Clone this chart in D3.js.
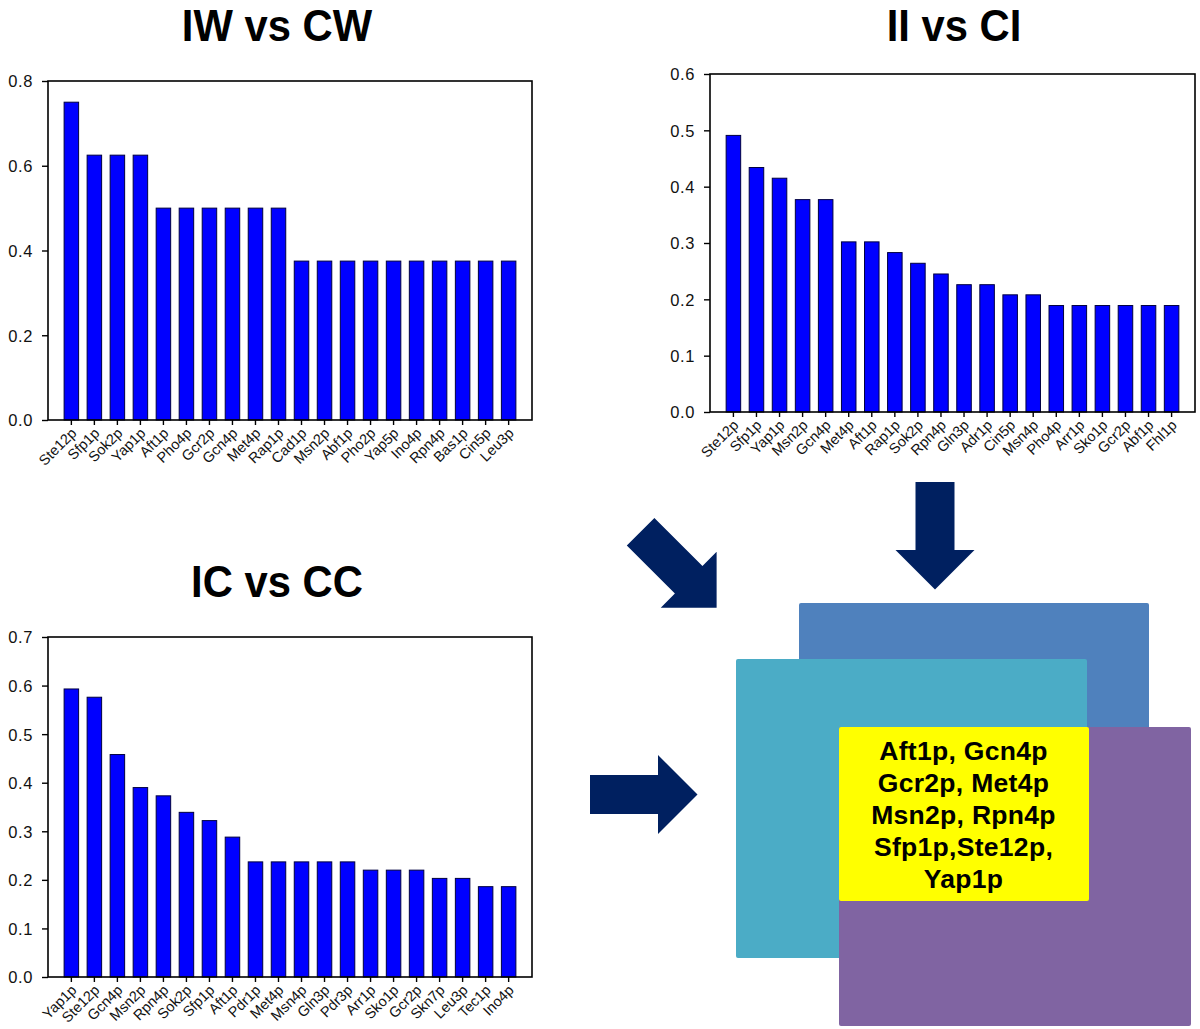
<!DOCTYPE html>
<html>
<head>
<meta charset="utf-8">
<script src="https://cdn.jsdelivr.net/npm/d3@7"></script>
<style>
  html, body { margin: 0; padding: 0; background: #fff; }
  svg { display: block; }
  text { font-family: "Liberation Sans", Arial, Helvetica, sans-serif; }
</style>
</head>
<body>
<svg id="fig" width="1200" height="1029"></svg>
<script>
// ---------------- DATA ----------------
const iwCategories = ["Ste12p","Sfp1p","Sok2p","Yap1p","Aft1p","Pho4p","Gcr2p","Gcn4p","Met4p","Rap1p",
  "Cad1p","Msn2p","Abf1p","Pho2p","Yap5p","Ino4p","Rpn4p","Bas1p","Cin5p","Leu3p"];
const iwValues = [0.75,0.625,0.625,0.625,0.5,0.5,0.5,0.5,0.5,0.5,
  0.375,0.375,0.375,0.375,0.375,0.375,0.375,0.375,0.375,0.375];
const iwTicks = [0.0,0.2,0.4,0.6,0.8];

const iiCategories = ["Ste12p","Sfp1p","Yap1p","Msn2p","Gcn4p","Met4p","Aft1p","Rap1p","Sok2p","Rpn4p",
  "Gln3p","Adr1p","Cin5p","Msn4p","Pho4p","Arr1p","Sko1p","Gcr2p","Abf1p","Fhl1p"];
const iiValues = [0.491,0.434,0.415,0.377,0.377,0.302,0.302,0.283,0.264,0.245,
  0.226,0.226,0.208,0.208,0.189,0.189,0.189,0.189,0.189,0.189];
const iiTicks = [0.0,0.1,0.2,0.3,0.4,0.5,0.6];

const icCategories = ["Yap1p","Ste12p","Gcn4p","Msn2p","Rpn4p","Sok2p","Sfp1p","Aft1p","Pdr1p","Met4p",
  "Msn4p","Gln3p","Pdr3p","Arr1p","Sko1p","Gcr2p","Skn7p","Leu3p","Tec1p","Ino4p"];
const icValues = [0.593,0.576,0.458,0.390,0.373,0.339,0.322,0.288,0.237,0.237,
  0.237,0.237,0.237,0.220,0.220,0.220,0.203,0.203,0.186,0.186];
const icTicks = [0.0,0.1,0.2,0.3,0.4,0.5,0.6,0.7];

const titles = ["IW vs CW", "II vs CI", "IC vs CC"];
const commonFactors = ["Aft1p, Gcn4p", "Gcr2p, Met4p", "Msn2p, Rpn4p", "Sfp1p,Ste12p,", "Yap1p"];

// ---------------- DRAWING ----------------
const svg = d3.select("#fig");

function barChart(cats, vals, ticks, box, title, titlePos) {
  const g = svg.append("g");
  const x = d3.scaleBand().domain(cats).range([box.left, box.right])
    .paddingInner(0.37).paddingOuter(0.7);
  const y = d3.scaleLinear().domain([0, d3.max(ticks)]).range([box.bottom, box.top]);

  // bars
  g.selectAll("rect.bar").data(cats).join("rect")
    .attr("class", "bar")
    .attr("x", d => x(d))
    .attr("width", x.bandwidth())
    .attr("y", (d, i) => y(vals[i]))
    .attr("height", (d, i) => y(0) - y(vals[i]))
    .attr("fill", "#0000FF")
    .attr("stroke", "#000040")
    .attr("stroke-width", 1);

  // frame
  g.append("rect")
    .attr("x", box.left).attr("y", box.top)
    .attr("width", box.right - box.left).attr("height", box.bottom - box.top)
    .attr("fill", "none").attr("stroke", "#000").attr("stroke-width", 1.6);

  // y axis
  const ya = g.append("g").attr("transform", `translate(${box.left},0)`)
    .call(d3.axisLeft(y).tickValues(ticks).tickFormat(d3.format(".1f")).tickSize(6).tickSizeOuter(0));
  ya.select(".domain").remove();
  ya.selectAll(".tick line").attr("stroke", "#000").attr("stroke-width", 1.4);
  ya.selectAll(".tick text").attr("x", -15).attr("dy", "0.36em")
    .attr("font-size", 16.5).attr("fill", "#111").style("letter-spacing", "0.6px")
    .attr("font-family", "Liberation Sans, Arial, sans-serif");

  // x axis
  const xa = g.append("g").attr("transform", `translate(0,${box.bottom})`)
    .call(d3.axisBottom(x).tickSize(5).tickSizeOuter(0));
  xa.select(".domain").remove();
  xa.selectAll(".tick line").attr("stroke", "#000").attr("stroke-width", 1.4);
  xa.selectAll(".tick text")
    .attr("y", 0).attr("dy", 0)
    .attr("text-anchor", "end")
    .attr("transform", "translate(6,14) rotate(-45)")
    .attr("font-size", 14.5).attr("fill", "#111")
    .attr("font-family", "Liberation Sans, Arial, sans-serif");

  // title
  svg.append("text")
    .attr("transform", `translate(${titlePos.cx},${titlePos.base}) scale(0.95,1)`)
    .attr("text-anchor", "middle")
    .attr("font-size", 44).attr("font-weight", "bold").attr("fill", "#000")
    .text(title);
}

barChart(iwCategories, iwValues, iwTicks, {left: 48, right: 532, top: 81, bottom: 420},
  titles[0], {cx: 277, base: 40.5});
barChart(iiCategories, iiValues, iiTicks, {left: 710, right: 1195, top: 74, bottom: 412},
  titles[1], {cx: 954, base: 40.5});
barChart(icCategories, icValues, icTicks, {left: 48, right: 532, top: 637, bottom: 977},
  titles[2], {cx: 277, base: 597});

// ---------------- DIAGRAM ----------------
const dg = svg.append("g");
// overlapping boxes (back to front)
const boxes = [
  {x: 799, y: 603, w: 350, h: 300, c: "#4F81BD"},
  {x: 736, y: 659, w: 351, h: 299, c: "#4BACC6"},
  {x: 839, y: 727, w: 352, h: 299, c: "#8064A2"},
  {x: 839, y: 727, w: 250, h: 174, c: "#FFFF00"}
];
dg.selectAll("rect").data(boxes).join("rect")
  .attr("x", d => d.x).attr("y", d => d.y).attr("width", d => d.w).attr("height", d => d.h)
  .attr("rx", 2).attr("fill", d => d.c);

dg.append("text")
  .attr("text-anchor", "middle")
  .attr("font-size", 26.5).attr("font-weight", "bold").attr("fill", "#000")
  .style("letter-spacing", "0.3px")
  .selectAll("tspan").data(commonFactors).join("tspan")
  .attr("x", 963.5).attr("y", (d, i) => 760 + i * 32)
  .text(d => d);

// arrows
const sw = 39, sl = 68, hw = 79, hl = 39.5;
const arrowPts = [[0,-sw/2],[sl,-sw/2],[sl,-hw/2],[sl+hl,0],[sl,hw/2],[sl,sw/2],[0,sw/2]];
const arrows = [
  {x: 640.6, y: 531.7, a: 45},
  {x: 935, y: 482, a: 90},
  {x: 590, y: 794.5, a: 0}
];
dg.selectAll("path.arrow").data(arrows).join("path")
  .attr("class", "arrow")
  .attr("d", d3.line()(arrowPts) + "Z")
  .attr("transform", d => `translate(${d.x},${d.y}) rotate(${d.a})`)
  .attr("fill", "#002060");
</script>
</body>
</html>
